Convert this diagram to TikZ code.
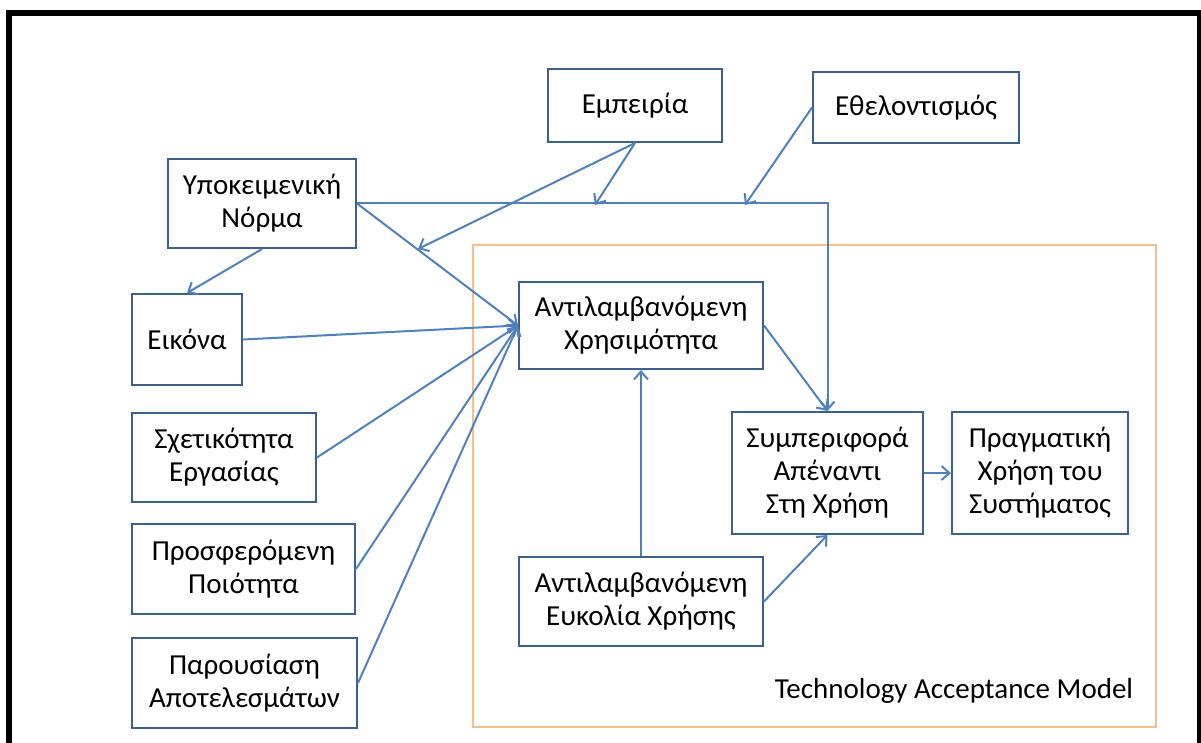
\documentclass[tikz,border=0pt]{standalone}
\usepackage{fontspec}
\setmainfont{Carlito}
\usetikzlibrary{arrows.meta}
\definecolor{linkblue}{RGB}{79,129,189}
\definecolor{boxblue}{RGB}{60,96,140}
\definecolor{tamorange}{RGB}{250,190,140}

\begin{document}
\begin{tikzpicture}[x=.5pt, y=-.5pt,
    box/.style={draw=boxblue, line width=1pt, align=center, inner sep=0pt,
      font=\fontsize{14.5}{16.5}\selectfont},
    link/.style={draw=linkblue, line width=1pt, -{Straight Barb[length=4pt,width=7pt]}}]
\useasboundingbox (0,0) rectangle (1201,743);
\draw[line width=3pt] (9,760) -- (9,13) -- (1200,13) -- (1200,760);
% technology acceptance model frame
\draw[tamorange, line width=.8pt] (473,245) rectangle (1156,727);
\node[font=\fontsize{14.5}{16.5}\selectfont] (tam) at (954,691) {Technology Acceptance Model};
% boxes
\node[box, minimum width=94pt, minimum height=44.5pt] (norm) at (262,203.5) {Υποκειμενική\\Νόρμα};
\node[box, minimum width=87pt, minimum height=36.5pt] (exper) at (635,105.5) {Εμπειρία};
\node[box, minimum width=103pt, minimum height=35.5pt] (volun) at (916,107.5) {Εθελοντισμός};
\node[box, minimum width=55pt, minimum height=45.5pt] (image) at (187,339.5) {Εικόνα};
\node[box, minimum width=92pt, minimum height=44.5pt] (jobrel) at (224,457.5) {Σχετικότητα\\Εργασίας};
\node[box, minimum width=111.5pt, minimum height=45pt] (quality) at (243.5,569) {Προσφερόμενη\\Ποιότητα};
\node[box, minimum width=112.5pt, minimum height=45pt] (results) at (244.5,683) {Παρουσίαση\\Αποτελεσμάτων};
\node[box, minimum width=122pt, minimum height=43.5pt] (useful) at (641,325.5) {Αντιλαμβανόμενη\\Χρησιμότητα};
\node[box, minimum width=122pt, minimum height=44.5pt] (ease) at (641,601.5) {Αντιλαμβανόμενη\\Ευκολία Χρήσης};
\node[box, minimum width=95.5pt, minimum height=61pt] (behav) at (827.5,473) {Συμπεριφορά\\Απέναντι\\Στη Χρήση};
\node[box, minimum width=88pt, minimum height=61pt] (actual) at (1040,473) {Πραγματική\\Χρήση του\\Συστήματος};
% moderator targets
\coordinate (expA) at (595,205);
\coordinate (expB) at (418,249);
\coordinate (volA) at (745,205);
% connectors
\draw[link] (norm.east) -| (behav.north);
\draw[link] (norm.east) -- (useful.west);
\draw[link] (norm.south) -- (image.north);
\draw[link] (exper.south) -- (expA);
\draw[link] (exper.south) -- (expB);
\draw[link] (volun.west) -- (volA);
\draw[link] (image.east) -- (useful.west);
\draw[link] (jobrel.east) -- (useful.west);
\draw[link] (quality.east) -- (useful.west);
\draw[link] (results.east) -- (useful.west);
\draw[link] (ease.north) -- (useful.south);
\draw[link] (ease.east) -- (behav.south);
\draw[link] (useful.east) -- (behav.north);
\draw[link] (behav.east) -- (actual.west);
\end{tikzpicture}
\end{document}
